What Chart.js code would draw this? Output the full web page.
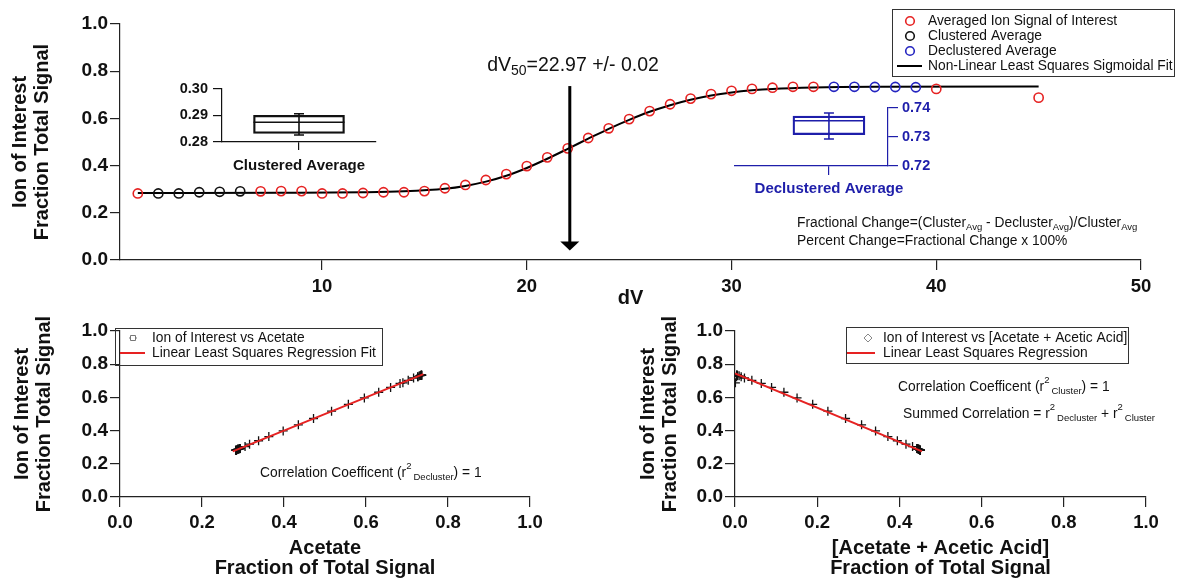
<!DOCTYPE html>
<html>
<head>
<meta charset="utf-8">
<script src="https://cdn.jsdelivr.net/npm/chart.js@4.4.0/dist/chart.umd.min.js"></script>
<style>
  body { margin: 0; background: #fff; width: 1177px; height: 579px; overflow: hidden; position: relative; }
  canvas { position: absolute; }
</style>
</head>
<body>
<canvas id="mainChart" width="1177" height="310" style="left:0;top:0"></canvas>
<canvas id="clusterBox" width="240" height="105" style="left:150px;top:75px"></canvas>
<canvas id="declusterBox" width="240" height="110" style="left:720px;top:95px"></canvas>
<canvas id="acetateChart" width="590" height="269" style="left:0;top:310px"></canvas>
<canvas id="sumChart" width="587" height="269" style="left:590px;top:310px"></canvas>
<script>
// données
const dv = [1, 2, 3, 4, 5, 6, 7, 8, 9, 10, 11, 12, 13, 14, 15, 16, 17, 18, 19, 20,
  21, 22, 23, 24, 25, 26, 27, 28, 29, 30, 31, 32, 33, 34, 35, 36, 37, 38, 39, 40, 45];
const ionSignal = [0.282, 0.282, 0.282, 0.287, 0.289, 0.291, 0.291, 0.292, 0.292, 0.282,
  0.282, 0.284, 0.287, 0.287, 0.292, 0.304, 0.318, 0.339, 0.364, 0.398,
  0.435, 0.473, 0.517, 0.558, 0.597, 0.631, 0.660, 0.684, 0.703, 0.717,
  0.725, 0.730, 0.734, 0.734, 0.734, 0.734, 0.733, 0.733, 0.732, 0.725, 0.688];
const clusteredDv = [2, 3, 4, 5, 6];
const declusteredDv = [35, 36, 37, 38, 39];

// courbe sigmoïde
const fitDv = [1, 8, 12, 14, 16, 17, 18, 19, 20, 21, 22, 23, 24, 25, 26, 27, 28, 29, 30, 31, 32, 34, 37, 45];
const fitSignal = [0.284, 0.285, 0.287, 0.291, 0.302, 0.314, 0.332, 0.357, 0.390, 0.429, 0.471, 0.514,
  0.556, 0.594, 0.628, 0.656, 0.679, 0.697, 0.710, 0.719, 0.725, 0.731, 0.734, 0.735];

const dvTicks = [10, 20, 30, 40, 50];
const fractionTicks = [0, 0.2, 0.4, 0.6, 0.8, 1.0];

// min, q1, médiane, q3, max
const clusterBox = [0.2826, 0.2832, 0.2874, 0.2900, 0.2906];
const declusterBox = [0.7293, 0.7308, 0.7356, 0.7372, 0.7383];
const clusterTicks = [0.28, 0.29, 0.30];
const declusterTicks = [0.72, 0.73, 0.74];

const acetateFraction = [0.284, 0.283, 0.283, 0.287, 0.289, 0.291, 0.292, 0.292, 0.293, 0.283,
  0.282, 0.285, 0.287, 0.288, 0.293, 0.305, 0.316, 0.338, 0.363, 0.398,
  0.435, 0.472, 0.516, 0.557, 0.596, 0.631, 0.660, 0.683, 0.703, 0.716,
  0.726, 0.730, 0.735, 0.736, 0.735, 0.736, 0.734, 0.735, 0.733, 0.727, 0.690];
const sumFraction = [0.451, 0.451, 0.450, 0.447, 0.446, 0.444, 0.444, 0.443, 0.443, 0.451,
  0.451, 0.449, 0.447, 0.447, 0.443, 0.432, 0.416, 0.395, 0.372, 0.342,
  0.308, 0.269, 0.226, 0.189, 0.151, 0.119, 0.089, 0.064, 0.041, 0.023,
  0.015, 0.010, 0.006, 0.005, 0.004, 0.004, 0.005, 0.004, 0.006, 0.004, 0.001];
const acetateFitX = [0.275, 0.74];
const acetateFitY = [0.275, 0.74];
const sumFitX = [0, 0.455];
const sumFitY = [0.745, 0.275];

const arrowDv = 22.1;

const FONT = '"Liberation Sans", Arial, Helvetica, sans-serif';
const INK = '#111';
const AXIS = '#222';
const RED = '#e62222';
const BLUE = '#2424c0';
const INSET_BLUE = '#1e1eaa';
const TXT = 13.8;   // texte courant
const BIG = 20;     // titres d'axes

Chart.defaults.font.family = FONT;
Chart.defaults.color = INK;
Chart.defaults.animation = false;
Chart.defaults.responsive = false;
Chart.defaults.devicePixelRatio = 1;
Chart.defaults.events = [];
Chart.defaults.plugins.legend.display = false;
Chart.defaults.plugins.tooltip.enabled = false;

const pts = (xs, ys) => xs.map((x, i) => ({x, y: ys[i]}));
const pick = test => dv.map((d, i) => ({x: d, y: ionSignal[i]})).filter(p => test(p.x));

// texte avec indices / exposants : [texte, taille, decalage y, espace apres]
function richText(ctx, x, y, parts, align) {
  ctx.save();
  ctx.fillStyle = INK;
  ctx.textBaseline = 'middle';
  ctx.textAlign = 'left';
  const w = parts.map(p => { ctx.font = p[1] + 'px ' + FONT; return ctx.measureText(p[0]).width + (p[3] || 0); });
  let cx = align === 'center' ? x - w.reduce((a, b) => a + b, 0) / 2 : x;
  parts.forEach((p, i) => {
    ctx.font = p[1] + 'px ' + FONT;
    ctx.fillText(p[0], cx, y + (p[2] || 0));
    cx += w[i];
  });
  ctx.restore();
}

function drawLegend(chart, lg) {
  const ctx = chart.ctx;
  ctx.save();
  ctx.strokeStyle = '#333';
  ctx.lineWidth = 1;
  ctx.strokeRect(lg.box[0] + 0.5, lg.box[1] + 0.5, lg.box[2] - lg.box[0], lg.box[3] - lg.box[1]);
  lg.items.forEach(it => {
    const y = it.y;
    ctx.strokeStyle = it.color;
    ctx.beginPath();
    if (it.symbol === 'circle') {
      ctx.lineWidth = 1.6;
      ctx.arc(lg.markerX, y, 4.3, 0, Math.PI * 2);
    } else if (it.symbol === 'line') {
      ctx.lineWidth = 2;
      ctx.moveTo(lg.line[0], y); ctx.lineTo(lg.line[1], y);
    } else if (it.symbol === 'square') {
      ctx.lineWidth = 1;
      ctx.rect(lg.markerX - 2.5, y - 2.5, 5, 5);
      ctx.moveTo(lg.markerX - 4, y); ctx.lineTo(lg.markerX - 2.5, y);
      ctx.moveTo(lg.markerX + 2.5, y); ctx.lineTo(lg.markerX + 4, y);
    } else if (it.symbol === 'diamond') {
      ctx.lineWidth = 1;
      ctx.moveTo(lg.markerX, y - 4); ctx.lineTo(lg.markerX + 4, y);
      ctx.lineTo(lg.markerX, y + 4); ctx.lineTo(lg.markerX - 4, y); ctx.closePath();
    }
    ctx.stroke();
    ctx.fillStyle = INK;
    ctx.font = TXT + 'px ' + FONT;
    ctx.textBaseline = 'middle';
    ctx.fillText(chart.data.datasets[it.ds].label, lg.textX, y);
  });
  ctx.restore();
}

function fractionY(width, titlePad) {
  return {
    type: 'linear', min: 0, max: 1,
    afterFit: s => { s.width = width; },
    afterBuildTicks: s => { s.ticks = fractionTicks.map(v => ({value: v})); },
    border: {display: true, color: AXIS, width: 1.2},
    grid: {display: true, drawOnChartArea: false, drawTicks: true, tickLength: 10, color: AXIS, lineWidth: 1.2},
    ticks: {color: INK, autoSkip: false, padding: 2, font: {size: 19, weight: 'bold'}, callback: v => v.toFixed(1)},
    title: {display: true, text: ['Ion of Interest', 'Fraction Total Signal'], color: INK,
      font: {size: BIG, weight: 'bold', lineHeight: 1.1}, padding: {top: titlePad, bottom: 0}}
  };
}

function fractionX(titleLines, height) {
  return {
    type: 'linear', min: 0, max: 1,
    afterFit: s => { s.height = height; },
    afterBuildTicks: s => { s.ticks = fractionTicks.map(v => ({value: v})); },
    border: {display: true, color: AXIS, width: 1.2},
    grid: {display: true, drawOnChartArea: false, drawTicks: true, tickLength: 10, color: AXIS, lineWidth: 1.2},
    ticks: {color: INK, autoSkip: false, maxRotation: 0, padding: 5, font: {size: 18.5, weight: 'bold'}, callback: v => v.toFixed(1)},
    title: {display: true, text: titleLines, color: INK,
      font: {size: BIG, weight: 'bold', lineHeight: 1.0}, padding: {top: 0, bottom: 1}}
  };
}

// graphique principal
const mainExtras = {
  id: 'mainExtras',
  afterDatasetsDraw(chart) {
    const ctx = chart.ctx;
    const x = chart.scales.x.getPixelForValue(arrowDv);
    const top = chart.scales.y.getPixelForValue(0.737);
    const tip = chart.scales.y.getPixelForValue(0.04);
    ctx.save();
    ctx.strokeStyle = '#000';
    ctx.fillStyle = '#000';
    ctx.lineWidth = 3;
    ctx.beginPath();
    ctx.moveTo(x, top); ctx.lineTo(x, tip - 8);
    ctx.stroke();
    ctx.beginPath();
    ctx.moveTo(x - 9.5, tip - 9); ctx.lineTo(x + 9.5, tip - 9); ctx.lineTo(x, tip);
    ctx.closePath(); ctx.fill();
    ctx.restore();
  },
  afterDraw(chart) {
    const ctx = chart.ctx;
    richText(ctx, 573, 66, [['dV', 19.5], ['50', 14, 5], ['=22.97 +/- 0.02', 19.5]], 'center');
    richText(ctx, 797, 223, [['Fractional Change=(Cluster', TXT], ['Avg', 9.5, 4], [' - Decluster', TXT], ['Avg', 9.5, 4],
      [')/Cluster', TXT], ['Avg', 9.5, 4]]);
    richText(ctx, 797, 241, [['Percent Change=Fractional Change x 100%', TXT]]);
    drawLegend(chart, {
      box: [892, 9, 1174, 76], markerX: 910, textX: 928, line: [897, 922],
      items: [
        {ds: 0, symbol: 'circle', color: RED, y: 21},
        {ds: 1, symbol: 'circle', color: INK, y: 36},
        {ds: 2, symbol: 'circle', color: BLUE, y: 51},
        {ds: 3, symbol: 'line', color: '#000', y: 66}
      ]
    });
  }
};

const circleStyle = color => ({
  showLine: false, pointStyle: 'circle', pointRadius: 4.6, pointBorderWidth: 1.6,
  pointBorderColor: color, pointBackgroundColor: 'rgba(0,0,0,0)', borderColor: color, order: 1
});

new Chart(document.getElementById('mainChart'), {
  type: 'line',
  data: {
    datasets: [
      Object.assign({label: 'Averaged Ion Signal of Interest',
        data: pick(d => !clusteredDv.includes(d) && !declusteredDv.includes(d))}, circleStyle(RED)),
      Object.assign({label: 'Clustered Average', data: pick(d => clusteredDv.includes(d))}, circleStyle(INK)),
      Object.assign({label: 'Declustered Average', data: pick(d => declusteredDv.includes(d))}, circleStyle(BLUE)),
      {label: 'Non-Linear Least Squares Sigmoidal Fit', data: pts(fitDv, fitSignal), borderColor: '#000',
        borderWidth: 2, pointRadius: 0, cubicInterpolationMode: 'monotone', order: 2}
    ]
  },
  options: {
    layout: {padding: {left: 0, right: 36, top: 24, bottom: 0}},
    scales: {
      x: {
        type: 'linear', min: 0.13, max: 50,
        afterFit: s => { s.height = 50; },
        afterBuildTicks: s => { s.ticks = dvTicks.map(v => ({value: v})); },
        border: {display: true, color: AXIS, width: 1.2},
        grid: {display: true, drawOnChartArea: false, drawTicks: true, tickLength: 10, color: AXIS, lineWidth: 1.2},
        ticks: {color: INK, autoSkip: false, maxRotation: 0, padding: 6, font: {size: 18.5, weight: 'bold'}, callback: v => String(v)},
        title: {display: true, text: 'dV', color: INK, font: {size: BIG, weight: 'bold', lineHeight: 1.1}, padding: {top: 0, bottom: 1}}
      },
      y: fractionY(120, 9)
    }
  },
  plugins: [mainExtras]
});

// encarts boîte à moustaches
const boxWhiskers = {
  id: 'boxWhiskers',
  afterDatasetsDraw(chart, args, opts) {
    const bar = chart.getDatasetMeta(0).data[0];
    const y = chart.scales.y;
    const [lo, q1, med, q3, hi] = opts.stats;
    const ctx = chart.ctx;
    const half = bar.width / 2;
    const pm = y.getPixelForValue(med), ph = y.getPixelForValue(hi), pl = y.getPixelForValue(lo);
    ctx.save();
    ctx.strokeStyle = opts.color;
    ctx.lineWidth = 1.6;
    ctx.beginPath();
    ctx.moveTo(bar.x - half, pm); ctx.lineTo(bar.x + half, pm);
    ctx.moveTo(bar.x, ph); ctx.lineTo(bar.x, pl);
    ctx.moveTo(bar.x - 5, ph); ctx.lineTo(bar.x + 5, ph);
    ctx.moveTo(bar.x - 5, pl); ctx.lineTo(bar.x + 5, pl);
    ctx.stroke();
    ctx.restore();
  }
};

function boxChart(id, cfg) {
  return new Chart(document.getElementById(id), {
    type: 'bar',
    data: {
      datasets: [{
        data: [{x: cfg.pos, y: [cfg.stats[1], cfg.stats[3]]}],
        backgroundColor: 'rgba(0,0,0,0)', borderColor: cfg.color, borderWidth: 1.6,
        borderSkipped: false, barThickness: cfg.thickness
      }]
    },
    options: {
      layout: {padding: cfg.padding},
      scales: {
        x: {
          type: 'linear', min: 0, max: 1, offset: false,
          afterFit: s => { s.height = cfg.xHeight; },
          afterBuildTicks: s => { s.ticks = [{value: cfg.pos}]; },
          border: {display: true, color: cfg.color, width: 1.2},
          grid: {display: true, offset: false, drawOnChartArea: false, drawTicks: true, tickLength: cfg.xTick, color: cfg.color, lineWidth: 1.2},
          ticks: {color: cfg.color, autoSkip: false, maxRotation: 0, padding: cfg.xPad, font: {size: 15, weight: 'bold'}, callback: () => cfg.label}
        },
        y: {
          type: 'linear', position: cfg.side, min: cfg.ticks[0], max: cfg.ticks[cfg.ticks.length - 1], beginAtZero: false,
          afterFit: s => { s.width = cfg.yWidth; },
          afterBuildTicks: s => { s.ticks = cfg.ticks.map(v => ({value: v})); },
          border: {display: true, color: cfg.color, width: 1.2},
          grid: {display: true, drawOnChartArea: false, drawTicks: true, tickLength: cfg.yTick, color: cfg.color, lineWidth: 1.2},
          ticks: {color: cfg.color, autoSkip: false, padding: cfg.yPad, font: {size: 14.5, weight: 'bold'}, callback: v => v.toFixed(2)}
        }
      },
      plugins: {boxWhiskers: {stats: cfg.stats, color: cfg.color}}
    },
    plugins: [boxWhiskers]
  });
}

boxChart('clusterBox', {
  stats: clusterBox, ticks: clusterTicks, label: 'Clustered Average', pos: 0.5, color: INK, side: 'left',
  thickness: 91, padding: {left: 0, right: 14, top: 11, bottom: 0}, yWidth: 72, xHeight: 38,
  xTick: 8, xPad: 7, yTick: 9, yPad: 5
});
boxChart('declusterBox', {
  stats: declusterBox, ticks: declusterTicks, label: 'Declustered Average', pos: 0.614, color: INSET_BLUE, side: 'right',
  thickness: 72, padding: {left: 15, right: 0, top: 13, bottom: 0}, yWidth: 72, xHeight: 39,
  xTick: 9, xPad: 5, yTick: 10, yPad: 4
});

// corrélations
const acetateExtras = {
  id: 'acetateExtras',
  afterDraw(chart) {
    richText(chart.ctx, 260, 163, [['Correlation Coefficent (r', TXT], ['2', 9.5, -7, 2], ['Decluster', 9.5, 4], [') = 1', TXT]]);
    drawLegend(chart, {
      box: [115, 18, 382, 55], markerX: 133, textX: 152, line: [120, 145],
      items: [{ds: 1, symbol: 'square', color: '#777', y: 28}, {ds: 0, symbol: 'line', color: RED, y: 43}]
    });
  }
};

new Chart(document.getElementById('acetateChart'), {
  type: 'line',
  data: {
    datasets: [
      {label: 'Linear Least Squares Regression Fit', data: pts(acetateFitX, acetateFitY), borderColor: RED, borderWidth: 2, pointRadius: 0, order: 0},
      {label: 'Ion of Interest vs Acetate', data: pts(acetateFraction, ionSignal), showLine: false, pointStyle: 'cross',
        pointRadius: 4.5, pointBorderWidth: 1.3, pointBorderColor: INK, borderColor: INK, order: 1}
    ]
  },
  options: {
    layout: {padding: {left: 0, right: 60, top: 21, bottom: 0}},
    scales: {x: fractionX(['Acetate', 'Fraction of Total Signal'], 82), y: fractionY(120, 11)}
  },
  plugins: [acetateExtras]
});

const sumExtras = {
  id: 'sumExtras',
  afterDraw(chart) {
    richText(chart.ctx, 308, 77, [['Correlation Coefficent (r', TXT], ['2', 9.5, -7, 2], ['Cluster', 9.5, 4], [') = 1', TXT]]);
    richText(chart.ctx, 313, 104, [['Summed Correlation = r', TXT], ['2', 9.5, -7, 2], ['Decluster', 9.5, 4], [' + r', TXT],
      ['2', 9.5, -7, 2], ['Cluster', 9.5, 4]]);
    drawLegend(chart, {
      box: [256, 17, 538, 53], markerX: 278, textX: 293, line: [257, 285],
      items: [{ds: 1, symbol: 'diamond', color: '#888', y: 28}, {ds: 0, symbol: 'line', color: RED, y: 43}]
    });
  }
};

new Chart(document.getElementById('sumChart'), {
  type: 'line',
  data: {
    datasets: [
      {label: 'Linear Least Squares Regression', data: pts(sumFitX, sumFitY), borderColor: RED, borderWidth: 2, pointRadius: 0, order: 0},
      {label: 'Ion of Interest vs [Acetate + Acetic Acid]', data: pts(sumFraction, ionSignal), showLine: false, pointStyle: 'cross',
        pointRadius: 4.5, pointBorderWidth: 1.3, pointBorderColor: INK, borderColor: INK, order: 1}
    ]
  },
  options: {
    layout: {padding: {left: 0, right: 31, top: 21, bottom: 0}},
    scales: {x: fractionX(['[Acetate + Acetic Acid]', 'Fraction of Total Signal'], 82), y: fractionY(145, 47)}
  },
  plugins: [sumExtras]
});
</script>
</body>
</html>
